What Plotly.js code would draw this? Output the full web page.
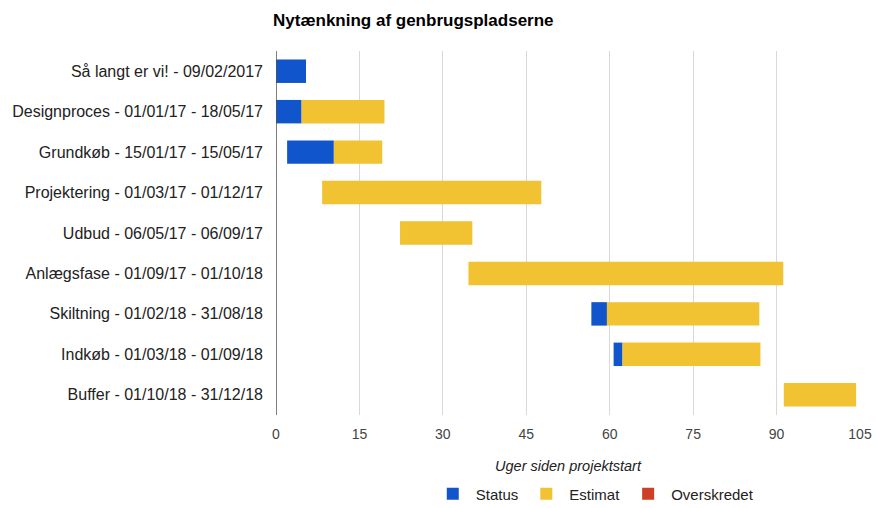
<!DOCTYPE html>
<html>
<head>
<meta charset="utf-8">
<script src="https://cdn.plot.ly/plotly-3.0.1.min.js"></script>
<style>html,body{margin:0;padding:0;background:#fff;}#chart{width:877px;height:508px;}</style>
</head>
<body>
<div id="chart"></div>
<script>
const categories = [
  "Så langt er vi! - 09/02/2017",
  "Designproces - 01/01/17 - 18/05/17",
  "Grundkøb - 15/01/17 - 15/05/17",
  "Projektering - 01/03/17 - 01/12/17",
  "Udbud - 06/05/17 - 06/09/17",
  "Anlægsfase - 01/09/17 - 01/10/18",
  "Skiltning - 01/02/18 - 31/08/18",
  "Indkøb - 01/03/18 - 01/09/18",
  "Buffer - 01/10/18 - 31/12/18"
];
const startWeek  = [0, 0, 2.0, 8.3, 22.3, 34.6, 56.7, 60.7, 91.3];
const statusLen  = [5.4, 4.6, 8.4, 0, 0, 0, 2.8, 1.6, 0];
const estimatLen = [0, 14.9, 8.7, 39.4, 13.0, 56.6, 27.4, 24.8, 13.0];
const overskredetLen = [0, 0, 0, 0, 0, 0, 0, 0, 0];
const xTicks = [0, 15, 30, 45, 60, 75, 90, 105];

const estimatBase = startWeek.map((s, i) => s + statusLen[i]);
const overBase = estimatBase.map((s, i) => s + estimatLen[i]);

const common = {type: 'bar', orientation: 'h', y: categories, width: 0.58, hoverinfo: 'x+y'};
const data = [
  Object.assign({}, common, {name: 'Status', x: statusLen, base: startWeek, marker: {color: '#1155cc'}}),
  Object.assign({}, common, {name: 'Estimat', x: estimatLen, base: estimatBase, marker: {color: '#f1c232'}}),
  Object.assign({}, common, {name: 'Overskredet', x: overskredetLen, base: overBase, marker: {color: '#cc4125'}})
];

const layout = {
  width: 877, height: 508,
  margin: {l: 276, r: 17, t: 51, b: 93},
  paper_bgcolor: '#fff', plot_bgcolor: '#fff',
  font: {family: 'Liberation Sans, Arial, sans-serif', size: 16, color: '#222'},
  title: {text: '<b>Nytænkning af genbrugspladserne</b>', x: 273/877, xanchor: 'left', y: 1 - 20/508, yanchor: 'middle',
          font: {size: 17, color: '#000'}},
  barmode: 'overlay',
  showlegend: true,
  legend: {orientation: 'h', x: 0.545, xanchor: 'center', yref: 'container', y: 1 - 494/508, yanchor: 'middle',
           font: {size: 15, color: '#222'}, traceorder: 'normal', itemwidth: 36},
  xaxis: {
    range: [0, 105], tickvals: xTicks, ticktext: xTicks.map(String),
    showgrid: true, gridcolor: '#d9d9d9', zeroline: false, showline: false,
    ticks: '', ticklabelstandoff: 9, tickfont: {size: 14, color: '#444'},
    title: {text: '<i>Uger siden projektstart</i>', font: {size: 14.5, color: '#222'}, standoff: 19},
    automargin: false, fixedrange: true
  },
  yaxis: {
    autorange: 'reversed', showgrid: false, zeroline: false, showline: false,
    ticks: '', ticklabelstandoff: 12, tickfont: {size: 16, color: '#222'},
    automargin: false, fixedrange: true
  },
  shapes: [{type: 'line', xref: 'x', yref: 'paper', x0: 0, x1: 0, y0: 0, y1: 1,
            line: {color: '#555', width: 1.5}}],
  bargap: 0.42
};

Plotly.newPlot('chart', data, layout, {displayModeBar: false, staticPlot: true});
</script>
</body>
</html>
